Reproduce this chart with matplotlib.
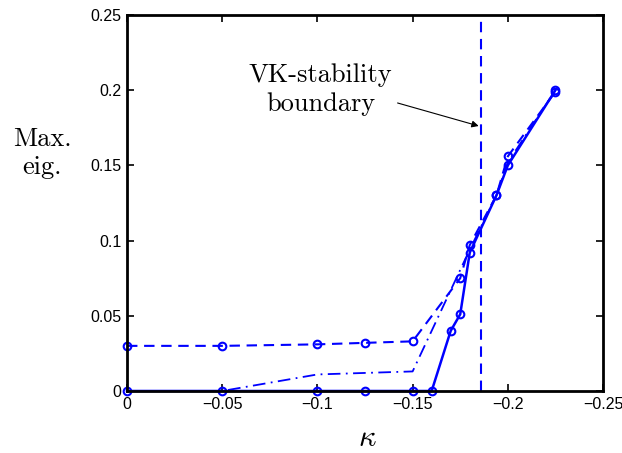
import matplotlib
matplotlib.use('Agg')
from matplotlib import pyplot
import numpy as np

# values
kappa_solid = [0, -0.05, -0.1, -0.125, -0.15, -0.16, -0.17, -0.175, -0.18, -0.194, -0.2, -0.225]
eig_solid = [0, 0, 0, 0, 0, 0, 0.04, 0.051, 0.092, 0.13, 0.15, 0.2]

kappa_dashed = [0, -0.05, -0.1, -0.125, -0.15, -0.175, -0.18, -0.194, -0.2, -0.225]
eig_dashed = [0.03, 0.03, 0.031, 0.032, 0.033, 0.075, 0.097, 0.13, 0.156, 0.199]

kappa_dashdot = [0, -0.05, -0.1, -0.15, -0.18, -0.194, -0.2, -0.225]
eig_dashdot = [0, 0, 0.011, 0.013, 0.094, 0.13, 0.152, 0.2]

kappa_boundary = -0.186

xticks = [0, -0.05, -0.1, -0.15, -0.2, -0.25]
yticks = [0, 0.05, 0.1, 0.15, 0.2, 0.25]

pyplot.rcParams['mathtext.fontset'] = 'cm'
pyplot.rcParams['font.family'] = ['Liberation Sans', 'DejaVu Sans']

blue = '#0000ff'

fig = pyplot.figure(figsize=(6.22, 4.53), dpi=100)
ax = fig.add_axes([0.2042, 0.1369, 0.7653, 0.8300])

ax.plot(kappa_dashdot, eig_dashdot, color=blue, lw=1.3, ls='-.', dashes=(7, 3, 1, 3))
ax.plot(kappa_dashed, eig_dashed, color=blue, lw=1.5, ls='--', dashes=(5, 3.2),
        marker='o', ms=5.5, mfc='none', mew=1.5, clip_on=False)
ax.plot(kappa_solid, eig_solid, color=blue, lw=1.8, ls='-',
        marker='o', ms=5.5, mfc='none', mew=1.5, clip_on=False)
ax.axvline(kappa_boundary, color=blue, lw=1.5, ls='--', dashes=(5, 3.2))

ax.set_xlim(0, -0.25)
ax.set_ylim(0, 0.25)
ax.set_xticks(xticks)
ax.set_yticks(yticks)
ax.set_xticklabels(['%g' % t if t == 0 else '\u2212%g' % abs(t) for t in xticks])
ax.set_yticklabels(['%g' % t for t in yticks])
ax.tick_params(direction='in', length=5, width=1.2, labelsize=11.5,
               top=True, right=True, pad=4)
for s in ax.spines.values():
    s.set_linewidth(2)

ax.text(-0.1016, 0.2005, 'VK-stability\nboundary', family='cmr10', fontsize=19,
        ha='center', va='center', linespacing=1.3)
ax.annotate('', xy=(-0.1847, 0.1762), xytext=(-0.1421, 0.1915),
            arrowprops=dict(arrowstyle='-|>', color='k', lw=0.8,
                            mutation_scale=10, shrinkA=0, shrinkB=0))

fig.text(0.0675, 0.662, 'Max.\neig.', family='cmr10', fontsize=19,
         ha='center', va='center', linespacing=1.2)
fig.text(0.59, 0.033, r'$\kappa$', fontsize=22, ha='center', va='center')

pyplot.savefig('out.png', dpi=100)
